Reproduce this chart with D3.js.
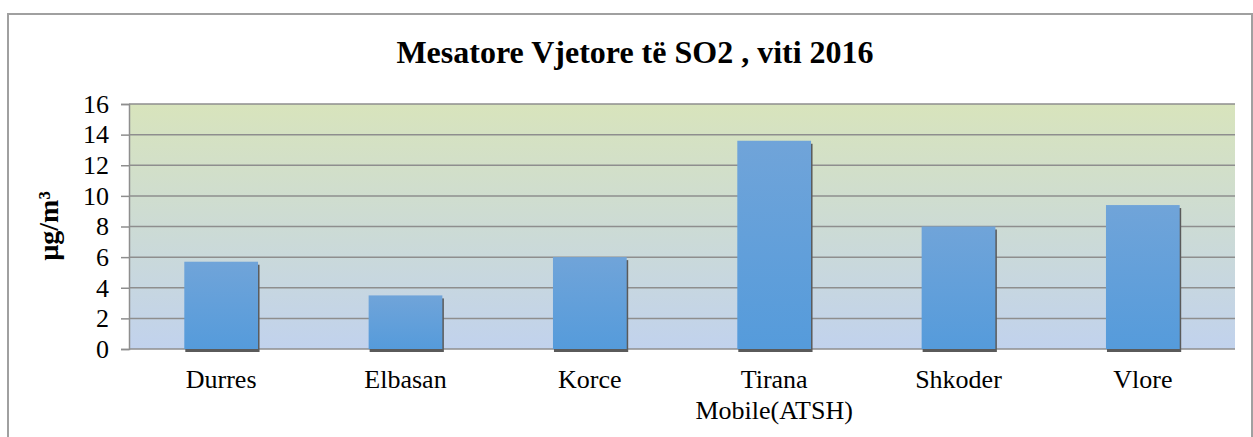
<!DOCTYPE html>
<html>
<head>
<meta charset="utf-8">
<script src="https://cdn.jsdelivr.net/npm/d3@7"></script>
<style>
  body { margin: 0; background: #fff; }
  svg text { font-family: "Liberation Serif", "Times New Roman", Times, serif; fill: #000; }
</style>
</head>
<body>
<svg id="chart" width="1253" height="437"></svg>
<script>
const categories = ["Durres", "Elbasan", "Korce", "Tirana Mobile(ATSH)", "Shkoder", "Vlore"];
const values = [5.7, 3.5, 6.0, 13.6, 8.0, 9.4];
const yTicks = [0, 2, 4, 6, 8, 10, 12, 14, 16];
const title = "Mesatore Vjetore të SO2 , viti 2016";

const W = 1253, H = 437;
const margin = { top: 104, right: 18, bottom: 88, left: 129 };
const width = W - margin.left - margin.right;
const height = H - margin.top - margin.bottom;

const svg = d3.select("#chart");
const defs = svg.append("defs");

// plot background gradient (green at top, blue at bottom)
const bg = defs.append("linearGradient").attr("id", "bg").attr("x1", 0).attr("y1", 0).attr("x2", 0).attr("y2", 1);
bg.append("stop").attr("offset", "0%").attr("stop-color", "#d8e4bc");
bg.append("stop").attr("offset", "100%").attr("stop-color", "#c1d2ed");

const barGrad = defs.append("linearGradient").attr("id", "bar").attr("x1", 0).attr("y1", 0).attr("x2", 0).attr("y2", 1);
barGrad.append("stop").attr("offset", "0%").attr("stop-color", "#70a4d9");
barGrad.append("stop").attr("offset", "100%").attr("stop-color", "#559bdb");

// outer frame
svg.append("rect")
  .attr("x", 8).attr("y", 14).attr("width", 1244).attr("height", 440)
  .attr("fill", "none").attr("stroke", "#a0a0a0").attr("stroke-width", 2);

svg.append("text")
  .attr("x", 635).attr("y", 63)
  .attr("text-anchor", "middle")
  .style("font-size", "32px").style("font-weight", "bold")
  .text(title);

const g = svg.append("g").attr("transform", `translate(${margin.left},${margin.top})`);

const x = d3.scaleBand().domain(categories).range([0, width]);
const y = d3.scaleLinear().domain([0, 16]).range([height, 0]);
const barW = x.bandwidth() * 0.4;

g.append("rect").attr("width", width).attr("height", height).attr("fill", "url(#bg)");

// gridlines
g.append("g").selectAll("line").data(yTicks).join("line")
  .attr("x1", 0).attr("x2", width)
  .attr("y1", d => y(d)).attr("y2", d => y(d))
  .attr("stroke", "#8e8e8e").attr("stroke-width", 1.5);

// bars with shadow
const bars = g.append("g").selectAll("g").data(values).join("g")
  .attr("transform", (d, i) => `translate(${x(categories[i]) + (x.bandwidth() - barW) / 2},0)`);
bars.append("rect")
  .attr("x", 1).attr("y", d => y(d) + 3)
  .attr("width", barW + 0.5).attr("height", d => height - y(d))
  .attr("fill", "#5a5a5a");
bars.append("rect")
  .attr("x", 0).attr("y", d => y(d))
  .attr("width", barW).attr("height", d => height - y(d))
  .attr("fill", "url(#bar)");

// y axis
const yAxis = g.append("g")
  .call(d3.axisLeft(y).tickValues(yTicks).tickSize(8).tickPadding(12));
yAxis.attr("font-size", null).attr("font-family", null);
yAxis.select(".domain").attr("stroke", "#8e8e8e").attr("stroke-width", 1.5);
yAxis.selectAll(".tick line").attr("stroke", "#8e8e8e").attr("stroke-width", 1.5);
yAxis.selectAll("text").style("font-size", "26px").attr("fill", "#000");

// x axis labels
const xl = g.append("g").selectAll("text").data(categories).join("text")
  .attr("x", d => x(d) + x.bandwidth() / 2)
  .attr("y", height + 39)
  .attr("text-anchor", "middle")
  .style("font-size", "26px");
xl.each(function (d) {
  const words = d.split(" ");
  const t = d3.select(this);
  words.forEach((w, i) => {
    t.append("tspan").attr("x", x(d) + x.bandwidth() / 2).attr("dy", i === 0 ? 0 : 31).text(w);
  });
});

// y axis title
svg.append("text")
  .attr("transform", "translate(58,226) rotate(-90)")
  .attr("text-anchor", "middle")
  .style("font-size", "28px").style("font-weight", "bold")
  .text("µg/m³");
</script>
</body>
</html>
